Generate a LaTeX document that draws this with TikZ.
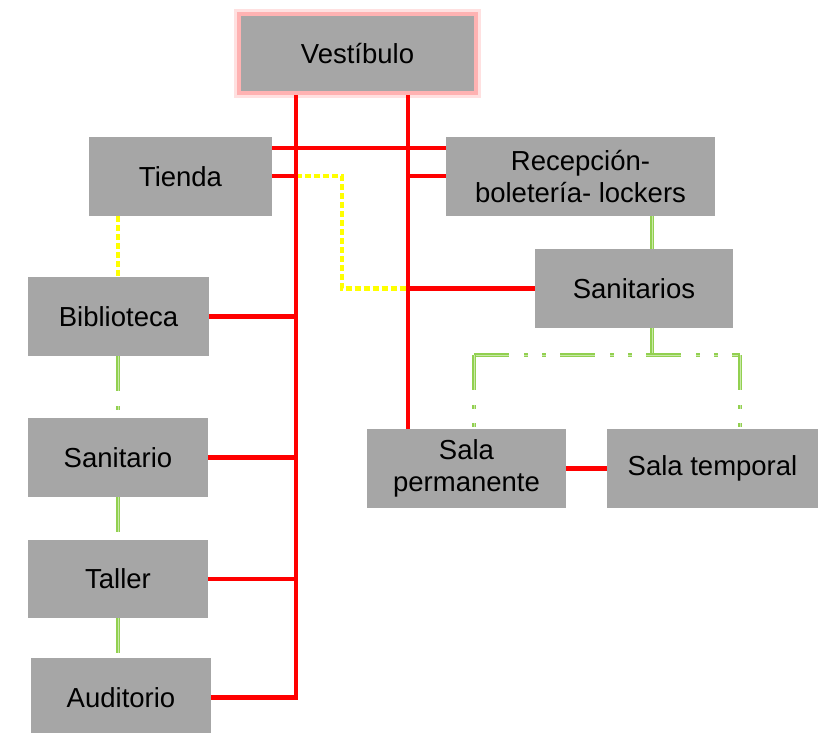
\documentclass[tikz,border=0pt]{standalone}
\usepackage{fontspec}
\setmainfont{Liberation Sans}
\definecolor{boxgray}{HTML}{A6A6A6}
\definecolor{gline}{HTML}{92D050}
\definecolor{glight}{HTML}{C9E8A8}
\definecolor{yline}{HTML}{FFFF00}
\begin{document}
\begin{tikzpicture}[x=1pt,y=-1pt,
  room/.style={rectangle, fill=boxgray, inner sep=0pt, align=center,
    font=\fontsize{27.5}{32.5}\selectfont, text=black},
  redline/.style={draw=red, line width=4.6pt, line cap=butt, line join=miter},
  yelline/.style={draw=yline, line width=4.4pt, dash pattern=on 6pt off 3pt},
  greenline/.style={draw=gline, line width=1.9pt, double=glight, double distance=1pt},
  greendash/.style={greenline, dash pattern=on 35pt off 15pt on 4pt off 14pt on 4pt off 14pt}
]
\useasboundingbox (0,0) rectangle (819,733);

% nodes
\node[room, minimum width=237pt, minimum height=79pt,
  preaction={draw=red!12, line width=10pt},
  draw=red!30, line width=4pt] (vest) at (357.5,53.5) {Vestíbulo};
\node[room, minimum width=183pt, minimum height=79pt] (tienda) at (180.5,176.5) {Tienda};
\node[room, minimum width=269pt, minimum height=79pt] (recep) at (580.5,176.5) {Recepción-\\boletería- lockers};
\node[room, minimum width=198pt, minimum height=79pt] (sanits) at (634,288.5) {Sanitarios};
\node[room, minimum width=181pt, minimum height=79pt] (bib) at (118.5,316.5) {Biblioteca};
\node[room, minimum width=180pt, minimum height=79pt] (sanit) at (118,457.5) {Sanitario};
\node[room, minimum width=180pt, minimum height=78pt] (taller) at (118,579) {Taller};
\node[room, minimum width=180pt, minimum height=79pt] (aud) at (121,697.5) {Auditorio};
\node[room, minimum width=199pt, minimum height=79pt] (sperm) at (466.5,468.5) {Sala\\permanente};
\node[room, minimum width=211pt, minimum height=79pt] (stemp) at (712.5,468.5) {Sala temporal};

% helper coordinates
\coordinate (xL) at (296,0);
\coordinate (xR) at (408,0);
\coordinate (y1) at (0,148);
\coordinate (y2) at (0,176);
\coordinate (yc) at (342,0);
\coordinate (xg) at (652,0);
\coordinate (gbar) at (0,355);
\coordinate (xgl) at (474,0);
\coordinate (xgr) at (740,0);
\coordinate (xv) at (118,0);

% yellow dashed connectors
\draw[yelline] (xL |- y2) -- (yc |- y2) -- (yc |- sanits.west) -- (xR |- sanits.west);
\draw[yelline] (xv |- tienda.south) -- (xv |- bib.north);

% green connectors
\draw[greenline] (xg |- recep.south) -- (xg |- sanits.north);
\draw[greenline] (xg |- sanits.south) -- (xg |- gbar);
\draw[greendash] (xgl |- gbar) -- (xgr |- gbar);
\draw[greendash] (xgl |- gbar) -- (xgl |- sperm.north);
\draw[greendash] (xgr |- gbar) -- (xgr |- stemp.north);
\draw[greendash] (xv |- bib.south) -- (xv |- sanit.north);
\draw[greendash] (xv |- sanit.south) -- (xv |- taller.north);
\draw[greendash] (xv |- taller.south) -- (xv |- aud.north);

% red connectors
\draw[redline] (xL |- vest.south) -- (xL |- aud.east) -- (aud.east);
\draw[redline] (xR |- vest.south) -- (xR |- sperm.north);
\draw[redline] (tienda.east |- y1) -- (recep.west |- y1);
\draw[redline] (tienda.east |- y2) -- (xL |- y2);
\draw[redline] (recep.west |- y2) -- (xR |- y2);
\draw[redline] (sanits.west) -- (xR |- sanits.west);
\draw[redline] (bib.east) -- (xL |- bib.east);
\draw[redline] (sanit.east) -- (xL |- sanit.east);
\draw[redline] (taller.east) -- (xL |- taller.east);
\draw[redline] (sperm.east) -- (stemp.west);
\end{tikzpicture}
\end{document}
